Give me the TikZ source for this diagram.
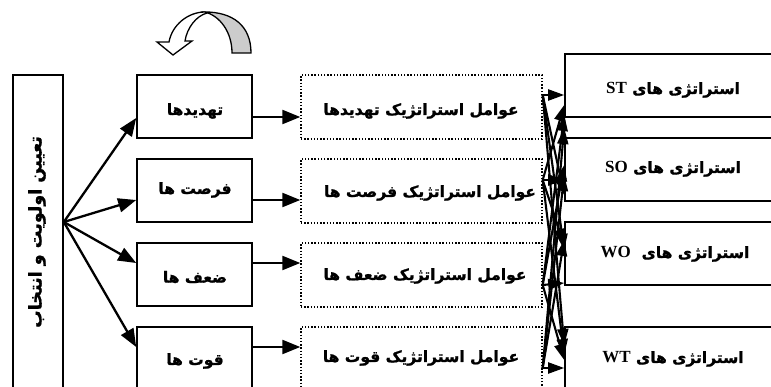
\documentclass[tikz,border=0pt]{standalone}
\usepackage{fontspec}
\usetikzlibrary{arrows.meta}
\TeXXeTstate=1
\newfontfamily\fa[Script=Arabic, BoldFeatures={FakeBold=1.2}]{DejaVu Sans}
\newfontfamily\lat{Liberation Serif}
\newcommand\latb{\lat\bfseries\fontsize{17}{18}\selectfont}
\begin{document}
\begin{tikzpicture}[x=1pt,y=-1pt,
  box/.style={draw, line width=1.6pt, inner sep=0pt},
  cbox/.style={box, minimum width=115pt, minimum height=63pt},
  dbox/.style={draw, line width=1.4pt, dash pattern=on 1.4pt off 1.8pt, minimum width=241pt, minimum height=64pt, inner sep=0pt},
  rbox/.style={box, minimum width=240pt, minimum height=63pt},
  txt/.style={font=\fa\bfseries\fontsize{15.5}{17}\selectfont, inner sep=0pt},
  arr/.style={line width=2.3pt, -{Triangle[length=18pt,width=14pt]}},
  carr/.style={line width=2.1pt, -{Triangle[length=16pt,width=11pt]}}]
\useasboundingbox (0,0) rectangle (771,387);
% left tall box
\node[box, minimum width=50pt, minimum height=330pt] (lbox) at (38,240) {};
\node[txt, rotate=90, font=\fa\bfseries\fontsize{17.5}{19}\selectfont] (ltxt) at (37,232) {\beginR تعیین اولویت و انتخاب\endR};
% column 2
\node[cbox] (b1) at (194.5,106.5) {};
\node[cbox] (b2) at (194.5,190.5) {};
\node[cbox] (b3) at (194.5,274.5) {};
\node[cbox] (b4) at (194.5,358.5) {};
\node[txt] (tb1) at (195,111) {\beginR تهدیدها\endR};
\node[txt] (tb2) at (195,190) {\beginR فرصت ها\endR};
\node[txt] (tb3) at (195,277) {\beginR ضعف ها\endR};
\node[txt] (tb4) at (195,361) {\beginR قوت ها\endR};
% dotted boxes
\node[dbox] (d1) at (421.5,107) {};
\node[dbox] (d2) at (421.5,191) {};
\node[dbox] (d3) at (421.5,275) {};
\node[dbox] (d4) at (421.5,359) {};
\node[txt] (td1) at (421,111) {\beginR عوامل استراتژیک تهدیدها\endR};
\node[txt] (td2) at (430,193) {\beginR عوامل استراتژیک فرصت ها\endR};
\node[txt] (td3) at (425,276) {\beginR عوامل استراتژیک ضعف ها\endR};
\node[txt] (td4) at (421,358) {\beginR عوامل استراتژیک قوت ها\endR};
% right boxes
\node[rbox] (r1) at (685,85.5) {};
\node[rbox] (r2) at (685,169.5) {};
\node[rbox] (r3) at (685,253.5) {};
\node[rbox] (r4) at (685,358.5) {};
\node[txt] (tr1) at (673,90) {\beginR استراتژی های \beginL{\latb ST}\endL\endR};
\node[txt] (tr2) at (673,169) {\beginR استراتژی های \beginL{\latb SO}\endL\endR};
\node[txt] (tr3) at (675,254) {\beginR استراتژی های \ \beginL{\latb WO}\endL\endR};
\node[txt] (tr4) at (673,359) {\beginR استراتژی های \beginL{\latb WT}\endL\endR};
% hub arrows
\coordinate (hub) at (lbox.east |- 0,222);
\draw[arr] (hub) -- ([yshift=-11.5pt]b1.west);
\draw[arr] (hub) -- ([yshift=-9.5pt]b2.west);
\draw[arr] (hub) -- ([yshift=11.5pt]b3.west);
\draw[arr] (hub) -- ([yshift=11.5pt]b4.west);
% column 2 to dotted
\draw[arr] ([yshift=-10.5pt]b1.east) -- ([yshift=-10pt]d1.west);
\draw[arr] ([yshift=-9.5pt]b2.east) -- ([yshift=-9pt]d2.west);
\draw[arr] ([yshift=11.5pt]b3.east) -- ([yshift=12pt]d3.west);
\draw[arr] ([yshift=11.5pt]b4.east) -- ([yshift=12pt]d4.west);
% sources
\coordinate (s1) at ([yshift=12pt]d1.east);
\coordinate (s2) at ([yshift=11pt]d2.east);
\coordinate (s3) at ([yshift=-10pt]d3.east);
\coordinate (s4) at ([yshift=-9pt]d4.east);
% crossing arrows
\foreach \s/\t/\yy in {1/1/95,1/2/195,1/3/250,1/4/345,
                      2/1/105,2/2/180,2/3/245,2/4/355,
                      3/1/115,3/2/165,3/3/283,3/4/360,
                      4/1/128,4/2/175,4/3/240,4/4/368}{
  \coordinate (e\s\t) at (r\t.west |- 0,\yy);
  \draw[carr] (s\s) -- (e\s\t);
}
% curved arrow
\draw[line width=1.3pt, fill=gray!40] (232,53) -- (251,53) .. controls (251,25) and (232,12) .. (205,12) .. controls (220,16) and (232,32) .. (232,53) -- cycle;
\draw[line width=1.3pt, fill=white] (205,12) .. controls (188,12) and (172,25) .. (169,42) -- (157,42) -- (173,55) -- (192,41) -- (185,41) .. controls (187,28) and (196,16) .. (207,13) -- cycle;
\end{tikzpicture}
\end{document}
